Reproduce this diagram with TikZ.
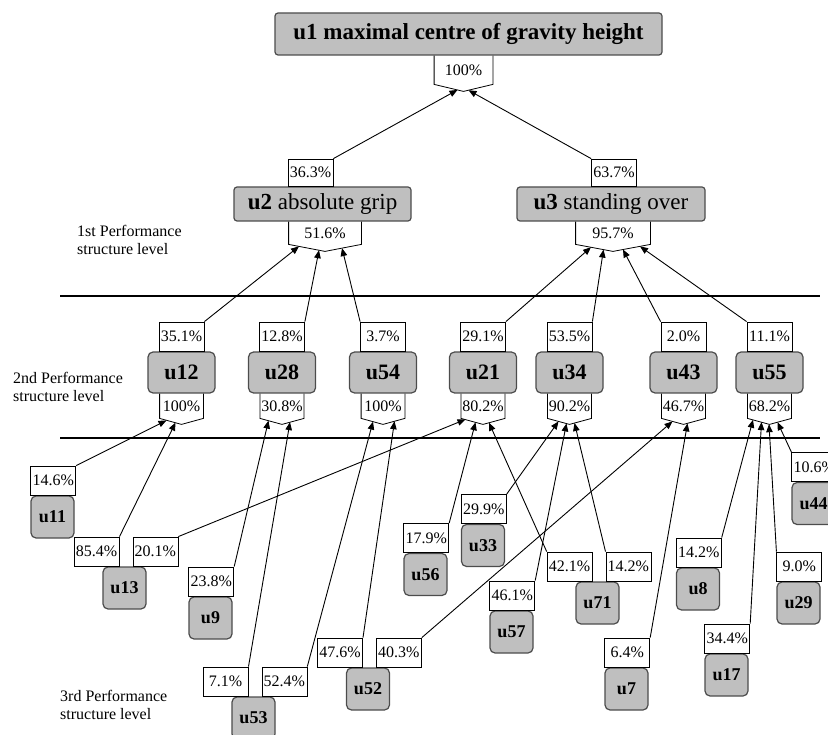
\documentclass[tikz,border=0pt]{standalone}
\usepackage{fontspec}
\setmainfont{Liberation Serif}
\usetikzlibrary{positioning,arrows.meta,calc}
\definecolor{boxgray}{gray}{0.75}
\definecolor{rim}{gray}{0.3}
% outline of a share box with a point at the bottom
\newcommand{\pentline}[2]{\draw[line width=0.8pt] (#1.north west) -- (#1.south west) -- ([yshift=-#2]#1.south) -- (#1.south east) -- (#1.north east);}
\tikzset{
  headbox/.style={draw=rim, fill=boxgray, line width=1.2pt, rounded corners=3pt,
    minimum height=42pt, inner sep=0pt, font=\fontsize{23}{26}\selectfont},
  mainbox/.style={headbox, minimum height=34pt},
  factor/.style={draw=rim, fill=boxgray, line width=1.2pt, rounded corners=5pt,
    minimum width=67pt, minimum height=41pt, inner sep=0pt, font=\bfseries\fontsize{22}{24}\selectfont},
  leaf/.style={factor, minimum width=43pt, minimum height=42pt, font=\bfseries\fontsize{18}{20}\selectfont},
  share/.style={draw, fill=white, line width=0.8pt, minimum width=45pt, minimum height=29pt,
    inner sep=1pt, font=\fontsize{16}{16}\selectfont},
  pentbox/.style={share, draw=none, fill=none, minimum width=43pt, minimum height=24pt},
  arr/.style={-{Triangle[length=8pt,width=6.5pt]}, line width=0.9pt},
  rule/.style={line width=2pt},
  levtext/.style={anchor=west, align=left, inner sep=0pt, font=\fontsize{16}{18}\selectfont}
}
\begin{document}
\begin{tikzpicture}[x=1pt,y=1pt]
\useasboundingbox (0,0) rectangle (828,-735);
\clip (0,0) rectangle (828,-735);

% top level
\node[headbox, minimum width=387pt] (u1) at (468.5,-34) {\textbf{u1 maximal centre of gravity height}};
\node[pentbox, minimum width=58pt, minimum height=28pt, below=0pt of u1, xshift=-5pt] (b1) {100\%};

% 1st level
\node[mainbox, minimum width=177pt] (u2) at (322.5,-204) {\textbf{u2} absolute grip};
\node[mainbox, minimum width=188pt] (u3) at (611,-204) {\textbf{u3} standing over};
\node[share, minimum height=27pt, above=0pt of u2, xshift=-12pt] (t2) {36.3\%};
\node[share, minimum height=27pt, above=0pt of u3, xshift=3pt] (t3) {63.7\%};
\node[pentbox, minimum width=72pt, minimum height=22pt, below=0pt of u2, xshift=2.5pt] (b2) {51.6\%};
\node[pentbox, minimum width=74pt, minimum height=22pt, below=0pt of u3, xshift=2pt] (b3) {95.7\%};

% 2nd level
\node[factor] (u12) at (181.5,-372.5) {u12};
\node[factor] (u28) at (282,-372.5) {u28};
\node[factor] (u54) at (383,-372.5) {u54};
\node[factor] (u21) at (483,-372.5) {u21};
\node[factor] (u34) at (569.5,-372.5) {u34};
\node[factor] (u43) at (683.5,-372.5) {u43};
\node[factor] (u55) at (769.5,-372.5) {u55};
\node[share, above=0pt of u12] (t12) {35.1\%};
\node[share, above=0pt of u28] (t28) {12.8\%};
\node[share, above=0pt of u54] (t54) {3.7\%};
\node[share, above=0pt of u21] (t21) {29.1\%};
\node[share, above=0pt of u34] (t34) {53.5\%};
\node[share, above=0pt of u43] (t43) {2.0\%};
\node[share, above=0pt of u55] (t55) {11.1\%};
\node[pentbox, below=0pt of u12] (b12) {100\%};
\node[pentbox, below=0pt of u28] (b28) {30.8\%};
\node[pentbox, below=0pt of u54] (b54) {100\%};
\node[pentbox, below=0pt of u21] (b21) {80.2\%};
\node[pentbox, below=0pt of u34] (b34) {90.2\%};
\node[pentbox, below=0pt of u43] (b43) {46.7\%};
\node[pentbox, below=0pt of u55] (b55) {68.2\%};

% 3rd level
\node[leaf] (u11) at (52.5,-517) {u11};
\node[leaf] (u13) at (124.5,-588) {u13};
\node[leaf] (u9) at (210.5,-618) {u9};
\node[leaf] (u53) at (253.5,-718) {u53};
\node[leaf] (u52) at (368,-689) {u52};
\node[leaf] (u56) at (425.5,-574.5) {u56};
\node[leaf] (u33) at (483,-545.5) {u33};
\node[leaf] (u57) at (511.5,-632) {u57};
\node[leaf] (u71) at (597.5,-603) {u71};
\node[leaf] (u7) at (626.5,-689) {u7};
\node[leaf] (u8) at (698,-589) {u8};
\node[leaf] (u17) at (726.5,-675) {u17};
\node[leaf] (u29) at (798.5,-603) {u29};
\node[leaf] (u44) at (813.5,-503.5) {u44};
\node[share, above right=0pt and 0pt of u11.north west] (t11) {14.6\%};
\node[share, above left=0pt and 5pt of u13.north] (t13a) {85.4\%};
\node[share, above right=0pt and 8pt of u13.north] (t13b) {20.1\%};
\node[share, above right=0pt and 0pt of u9.north west] (t9) {23.8\%};
\node[share, above left=0pt and 5pt of u53.north] (t53a) {7.1\%};
\node[share, above right=0pt and 8pt of u53.north] (t53b) {52.4\%};
\node[share, above left=0pt and 5pt of u52.north] (t52a) {47.6\%};
\node[share, above right=0pt and 8pt of u52.north] (t52b) {40.3\%};
\node[share, above right=0pt and 0pt of u56.north west] (t56) {17.9\%};
\node[share, above right=0pt and 0pt of u33.north west] (t33) {29.9\%};
\node[share, above right=0pt and 0pt of u57.north west] (t57) {46.1\%};
\node[share, above left=0pt and 5pt of u71.north] (t71a) {42.1\%};
\node[share, above right=0pt and 8pt of u71.north] (t71b) {14.2\%};
\node[share, above right=0pt and 0pt of u7.north west] (t7) {6.4\%};
\node[share, above right=0pt and 0pt of u8.north west] (t8) {14.2\%};
\node[share, above right=0pt and 0pt of u17.north west] (t17) {34.4\%};
\node[share, above right=0pt and 0pt of u29.north west] (t29) {9.0\%};
\node[share, above right=0pt and 0pt of u44.north west] (t44) {10.6\%};

% pointed share boxes
\pentline{b1}{7pt}
\pentline{b2}{7pt}
\pentline{b3}{7pt}
\foreach \p in {b12,b28,b54,b21,b34,b43,b55} {\pentline{\p}{6pt}}

% level borders
\draw[rule] (60,-296) -- (820,-296);
\draw[rule] (60,-438) -- (820,-438);
\node[levtext] (lev1) at (77,-240) {1st Performance\\structure level};
\node[levtext] (lev2) at (13,-386.5) {2nd Performance\\structure level};
\node[levtext] (lev3) at (60,-704.5) {3rd Performance\\structure level};

% 3rd -> 2nd level
\draw[arr] (t11.north east) -- ([xshift=-15pt,yshift=-2pt]b12.south);
\draw[arr] (t13a.north east) -- ([xshift=-6pt,yshift=-4.2pt]b12.south);
\draw[arr] (t9.north east) -- ([xshift=-13.5pt,yshift=-2.2pt]b28.south);
\draw[arr] (t53a.north east) -- ([xshift=8pt,yshift=-3.7pt]b28.south);
\draw[arr] (t53b.north east) -- ([xshift=-10pt,yshift=-3.2pt]b54.south);
\draw[arr] (t52a.north east) -- ([xshift=11.5pt,yshift=-2.8pt]b54.south);
\draw[arr] (t13b.north east) -- ([xshift=-17.5pt,yshift=-1pt]b21.south);
\draw[arr] (t56.north east) -- ([xshift=-7.5pt,yshift=-3.9pt]b21.south);
\draw[arr] (t71a.north west) -- ([xshift=6pt,yshift=-4.3pt]b21.south);
\draw[arr] (t33.north east) -- ([xshift=-11pt,yshift=-3pt]b34.south);
\draw[arr] (t57.north east) -- ([xshift=-3pt,yshift=-5pt]b34.south);
\draw[arr] (t71b.north west) -- ([xshift=5pt,yshift=-4.6pt]b34.south);
\draw[arr] (t52b.north east) -- ([xshift=-11pt,yshift=-3pt]b43.south);
\draw[arr] (t7.north east) -- ([xshift=4pt,yshift=-5pt]b43.south);
\draw[arr] (t8.north east) -- ([xshift=-16.5pt,yshift=-1.4pt]b55.south);
\draw[arr] (t17.north east) -- ([xshift=-8pt,yshift=-3.7pt]b55.south);
\draw[arr] (t29.north west) -- ([xshift=-0.5pt,yshift=-5.8pt]b55.south);
\draw[arr] (t44.north west) -- ([xshift=8pt,yshift=-3.8pt]b55.south);

% 2nd -> 1st level
\draw[arr] (t12.north east) -- ([xshift=-26pt,yshift=-2pt]b2.south);
\draw[arr] (t28.north east) -- ([xshift=-6pt,yshift=-5.8pt]b2.south);
\draw[arr] (t54.north west) -- ([xshift=17pt,yshift=-3.7pt]b2.south);
\draw[arr] (t21.north east) -- ([xshift=-22pt,yshift=-2.8pt]b3.south);
\draw[arr] (t34.north east) -- ([xshift=-9.5pt,yshift=-5.2pt]b3.south);
\draw[arr] (t43.north west) -- ([xshift=10pt,yshift=-5.1pt]b3.south);
\draw[arr] (t55.north west) -- ([xshift=27pt,yshift=-2pt]b3.south);

% 1st level -> top
\draw[arr] (t2.north east) -- ([xshift=-6pt,yshift=-5.5pt]b1.south);
\draw[arr] (t3.north west) -- ([xshift=5pt,yshift=-5.8pt]b1.south);
\end{tikzpicture}
\end{document}
